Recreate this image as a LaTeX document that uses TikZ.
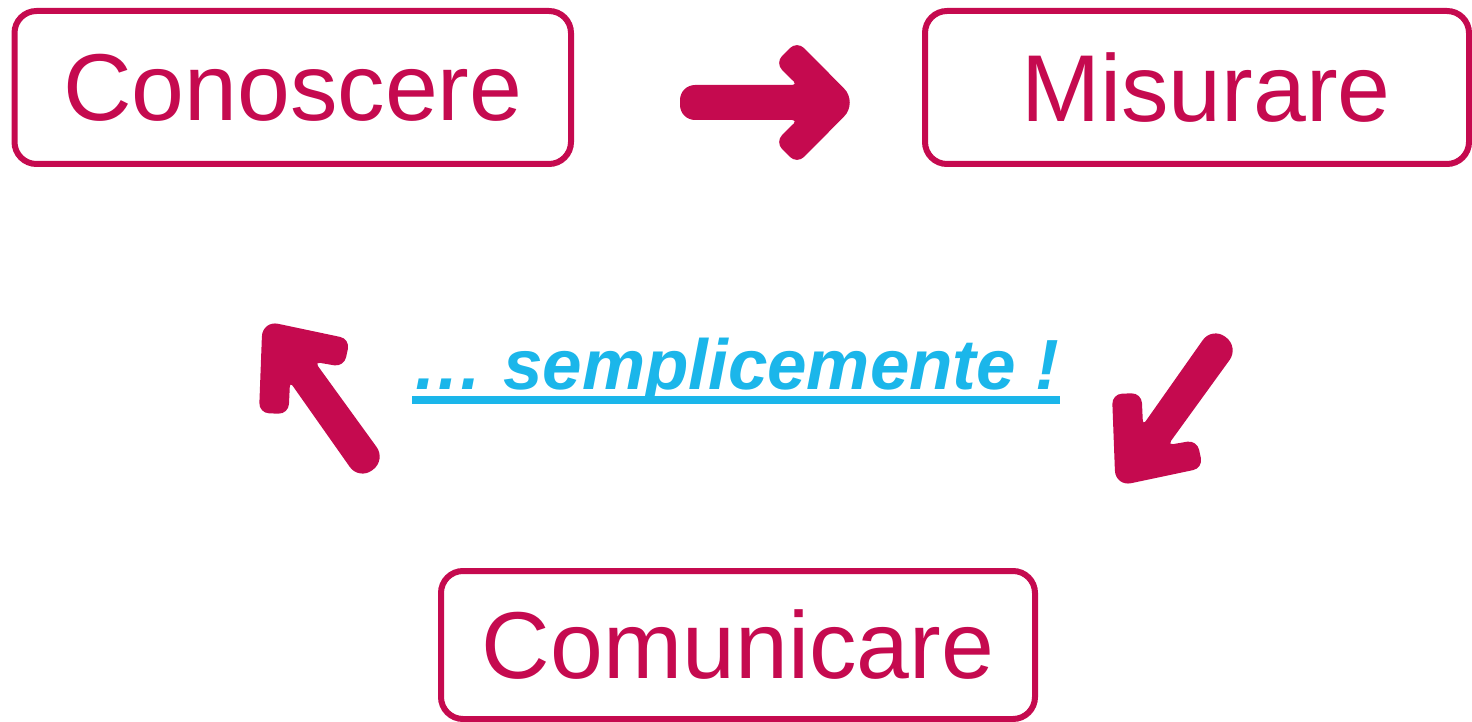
\documentclass[tikz,border=0pt]{standalone}
\usepackage{fontspec}
\setmainfont{Liberation Sans}
\usetikzlibrary{calc}
\definecolor{crim}{RGB}{197,10,79}
\definecolor{skyb}{RGB}{27,182,234}
\tikzset{
  box/.style={draw=crim, line width=6pt, rounded corners=22pt, inner sep=0pt,
    text=crim, font=\fontsize{95}{110}\selectfont},
  blockfill/.style={fill=crim},
  slogan/.style={text=skyb, inner sep=0pt, font=\fontsize{71}{80}\selectfont\bfseries\itshape}
}
\begin{document}
\begin{tikzpicture}[x=1pt,y=-1pt]
\useasboundingbox (0,0) rectangle (1472,722);
% boxes
\node[box, minimum width=556.5pt, minimum height=153pt] (conoscere) at (292.75,87.5) {Conoscere};
\node[box, minimum width=544pt, minimum height=153pt] (misurare) at (1197,87.5) {\hspace*{18pt}Misurare};
\node[box, minimum width=594pt, minimum height=148pt] (comunicare) at (738,645) {Comunicare};
% slogan
\node[slogan, anchor=base] (slogan) at (736,389) {… semplicemente !};
\draw[skyb, line width=8pt] ($(slogan.base west)+(0,11)$) -- ($(slogan.base east)+(0,11)$);
% top arrow
\coordinate (P1) at (680,85);
\coordinate (P2) at (797.3,85);
\coordinate (P3) at (775,63);
\coordinate (P4) at (797,41);
\coordinate (P5) at (858,102.5);
\coordinate (P6) at (797,164);
\coordinate (P7) at (775,142);
\coordinate (P8) at (797.3,120);
\coordinate (P9) at (680,120);
\fill[blockfill] (740,85) [rounded corners=5pt] -- (P2) [rounded corners=10pt] -- (P3) -- (P4)
  [rounded corners=20pt] -- (P5) [rounded corners=10pt] -- (P6) -- (P7)
  [rounded corners=5pt] -- (P8) [rounded corners=15pt] -- (P9) -- (P1) [sharp corners] -- cycle;
% left arrow (pointing up-left)
\coordinate (L1) at (262.5,320.5);
\coordinate (L2) at (350,339);
\coordinate (L3) at (344,367);
\coordinate (L4) at (315,362);
\coordinate (L5) at (386,460);
\coordinate (L6) at (359,480);
\coordinate (L7) at (290,382);
\coordinate (L8) at (288.5,414);
\coordinate (L9) at (259,413);
\fill[blockfill] ($(L1)!0.5!(L2)$) [rounded corners=10pt] -- (L2) -- (L3)
  [rounded corners=5pt] -- (L4) [rounded corners=16pt] -- (L5) -- (L6)
  [rounded corners=5pt] -- (L7) [rounded corners=10pt] -- (L8) -- (L9)
  [rounded corners=16pt] -- (L1) [sharp corners] -- cycle;
% right arrow (pointing down-left)
\coordinate (R1) at (1115.5,486.5);
\coordinate (R2) at (1203,468);
\coordinate (R3) at (1197,440);
\coordinate (R4) at (1168,445);
\coordinate (R5) at (1239,347);
\coordinate (R6) at (1212,327);
\coordinate (R7) at (1143,425);
\coordinate (R8) at (1141.5,393);
\coordinate (R9) at (1112,394);
\fill[blockfill] ($(R1)!0.5!(R2)$) [rounded corners=10pt] -- (R2) -- (R3)
  [rounded corners=5pt] -- (R4) [rounded corners=16pt] -- (R5) -- (R6)
  [rounded corners=5pt] -- (R7) [rounded corners=10pt] -- (R8) -- (R9)
  [rounded corners=16pt] -- (R1) [sharp corners] -- cycle;
\end{tikzpicture}
\end{document}
